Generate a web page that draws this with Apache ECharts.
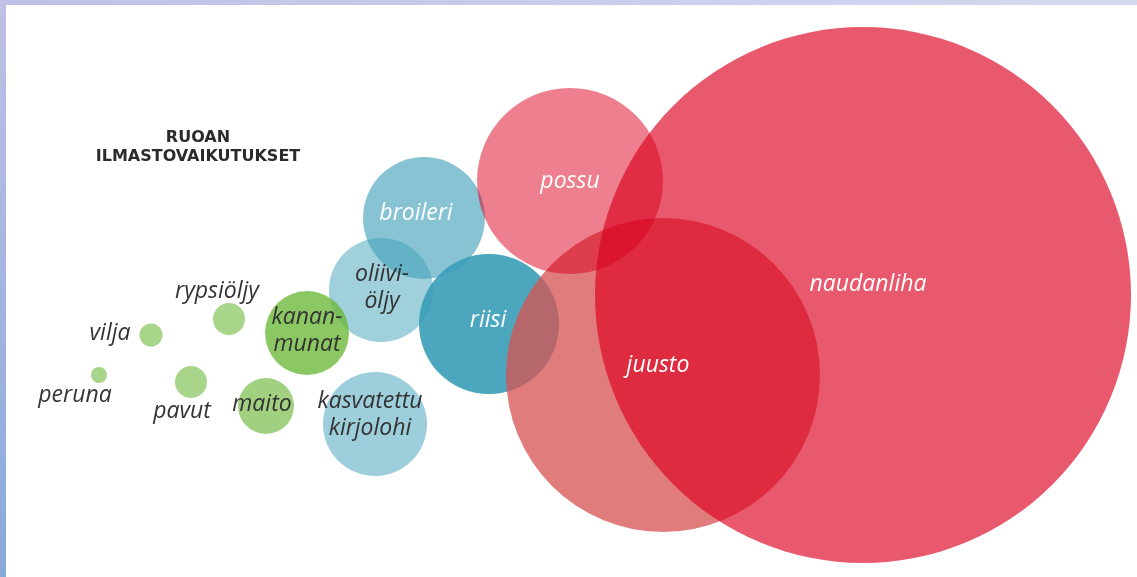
<!DOCTYPE html>
<html>
<head>
<meta charset="utf-8">
<script src="https://cdn.jsdelivr.net/npm/echarts@6/dist/echarts.min.js"></script>
<style>
  html, body { margin: 0; padding: 0; width: 1137px; height: 577px; overflow: hidden; background: #fff; }
  #edge-top { position: absolute; left: 0; top: 0; width: 1137px; height: 5px;
    background: linear-gradient(to right, #c0c0e6, #d6d8f0); }
  #edge-left { position: absolute; left: 0; top: 0; width: 6px; height: 577px;
    background: linear-gradient(to bottom, #c0c0e6, #88a9dc); }
  #chart { position: absolute; left: 6px; top: 5px; width: 1131px; height: 572px; }
</style>
</head>
<body>
<div id="edge-top"></div>
<div id="edge-left"></div>
<div id="chart"></div>
<script>
  // ruoka, kuplan paikka ja koko (sivun pikseleinä)
  var foods   = ['peruna', 'vilja', 'rypsiöljy', 'pavut', 'maito', 'kasvatettu\nkirjolohi',
                 'broileri', 'oliivi-\nöljy', 'riisi', 'kanan-\nmunat', 'juusto', 'possu', 'naudanliha'];
  var xPos    = [99, 151, 229, 191, 266, 375, 424, 381, 489, 307, 663, 570, 863];
  var yPos    = [375, 335, 319, 382, 406, 424, 218, 290, 324, 333, 375, 181, 295];
  var impact  = [8, 11.5, 16, 16, 28, 52, 61, 52, 70, 42, 157, 93, 268];
  var titleLines = ['RUOAN', 'ILMASTOVAIKUTUKSET'];

  var fills = ['rgba(110,185,60,0.6)', 'rgba(110,185,60,0.6)', 'rgba(110,185,60,0.6)', 'rgba(110,185,60,0.6)',
               'rgba(110,185,60,0.65)', 'rgba(60,158,184,0.5)', 'rgba(60,158,184,0.615)', 'rgba(60,158,184,0.487)',
               'rgba(60,158,184,0.92)', 'rgba(110,185,60,0.8)', 'rgba(215,85,84,0.77)', 'rgba(220,0,30,0.5)',
               'rgba(220,0,30,0.65)'];
  var labelShift = [[-24, 20], [-41, -2], [-12, -28], [-9, 29], [-4, -2], [-5, -9],
                    [-8, -5], [1, -2], [-1, -4], [0, -2], [-5, -10], [0, 0], [5, -11]];
  var lightText = ['broileri', 'riisi', 'juusto', 'possu', 'naudanliha'];

  var chart = echarts.init(document.getElementById('chart'));

  var data = foods.map(function (name, i) {
    return {
      name: name,
      value: [xPos[i], yPos[i], impact[i]],
      itemStyle: { color: fills[i], opacity: 1 },
      label: {
        offset: labelShift[i],
        color: lightText.indexOf(name) >= 0 ? '#fff' : '#333'
      }
    };
  });

  var option = {
    animation: false,
    grid: { left: 0, right: 0, top: 0, bottom: 0 },
    xAxis: { type: 'value', min: 6, max: 1137, show: false },
    yAxis: { type: 'value', min: 5, max: 577, inverse: true, show: false },
    graphic: titleLines.map(function (t, i) {
      return {
        type: 'text',
        x: 198 - 6,
        y: 138 - 5 + i * 19,
        style: {
          text: t,
          fill: '#2b2b2b',
          font: 'bold 16px "DejaVu Sans"',
          textAlign: 'center',
          textVerticalAlign: 'middle'
        }
      };
    }),
    series: [{
      type: 'scatter',
      data: data,
      symbol: 'circle',
      symbolSize: function (val) {
        var w = chart.getWidth() / (1137 - 6);
        return val[2] * 2 * w;
      },
      label: {
        show: true,
        position: 'inside',
        formatter: '{b}',
        fontFamily: 'Open Sans',
        fontStyle: 'italic',
        fontSize: 23,
        lineHeight: 27,
        align: 'center'
      },
      emphasis: { disabled: true }
    }]
  };
  chart.setOption(option);
</script>
</body>
</html>
